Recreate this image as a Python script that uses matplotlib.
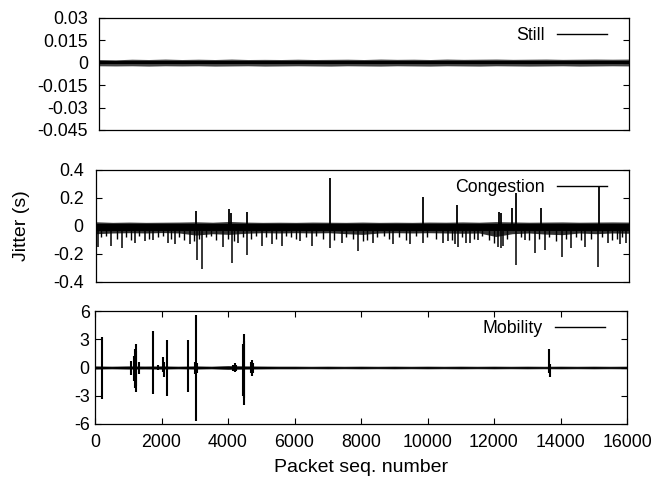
import matplotlib
matplotlib.use("Agg")
import matplotlib.pyplot as plt

plt.rcParams['font.family'] = ['Liberation Sans', 'DejaVu Sans']

# ---------------- data ----------------
seq_env = [0, 500, 1000, 1500, 2000, 2500, 3000, 3500, 4000, 4500, 5000, 5500,
           6000, 6500, 7000, 7500, 8000, 8500, 9000, 9500, 10000, 10500, 11000,
           11500, 12000, 12500, 13000, 13500, 14000, 14500, 15000, 15500, 16000]

# Still: dense jitter band envelope (outer fuzz and solid core)
still_hi = [0.0022, 0.0020, 0.0024, 0.0022, 0.0025, 0.0022, 0.0024, 0.0022, 0.0025,
            0.0022, 0.0023, 0.0022, 0.0024, 0.0022, 0.0023, 0.0024, 0.0022, 0.0025,
            0.0023, 0.0024, 0.0022, 0.0025, 0.0023, 0.0024, 0.0025, 0.0023, 0.0024,
            0.0025, 0.0023, 0.0024, 0.0025, 0.0024, 0.0025]
still_lo = [-0.0020, -0.0021, -0.0020, -0.0022, -0.0020, -0.0021, -0.0020, -0.0022,
            -0.0021, -0.0020, -0.0022, -0.0021, -0.0020, -0.0021, -0.0022, -0.0020,
            -0.0021, -0.0022, -0.0020, -0.0021, -0.0022, -0.0020, -0.0021, -0.0022,
            -0.0020, -0.0021, -0.0022, -0.0021, -0.0020, -0.0022, -0.0021, -0.0020, -0.0021]
still_core = 0.0011

# Congestion: dense jitter band envelope
cong_hi = [0.030, 0.026, 0.028, 0.026, 0.027, 0.028, 0.030, 0.027, 0.032, 0.028,
           0.026, 0.027, 0.026, 0.028, 0.027, 0.026, 0.028, 0.026, 0.027, 0.026,
           0.028, 0.027, 0.029, 0.027, 0.031, 0.029, 0.027, 0.028, 0.029, 0.027,
           0.028, 0.029, 0.028]
cong_lo = [-0.055, -0.050, -0.048, -0.050, -0.047, -0.050, -0.065, -0.055, -0.060,
           -0.052, -0.048, -0.050, -0.048, -0.050, -0.048, -0.055, -0.060, -0.050,
           -0.048, -0.050, -0.048, -0.050, -0.052, -0.050, -0.075, -0.055, -0.050,
           -0.058, -0.062, -0.050, -0.055, -0.050, -0.052]
cong_core_hi = 0.015
cong_core_lo = -0.035

# Congestion: isolated positive spikes (seq, value)
cong_up_seq = [3000, 4000, 4050, 4530, 7020, 9810, 10830, 12090, 12150, 12480,
               12600, 13350, 15090]
cong_up_val = [0.105, 0.12, 0.09, 0.10, 0.345, 0.21, 0.15, 0.10, 0.09, 0.13,
               0.235, 0.13, 0.28]

# Congestion: large negative spikes (seq, value)
cong_dn_seq = [70, 450, 770, 1170, 1470, 1720, 2170, 2370, 2820, 3030, 3180, 3820,
               4080, 4270, 4530, 4970, 5270, 5570, 6120, 6470, 7020, 7370, 7870,
               8320, 8920, 9420, 9820, 10420, 10570, 10770, 10870, 11120, 11220,
               11470, 12070, 12150, 12220, 12600, 12870, 13170, 13470, 14000,
               14270, 14670, 15080, 15370, 15720, 15920]
cong_dn_val = [-0.15, -0.14, -0.16, -0.12, -0.11, -0.10, -0.12, -0.13, -0.13,
               -0.24, -0.31, -0.15, -0.265, -0.12, -0.21, -0.14, -0.13, -0.14,
               -0.11, -0.14, -0.16, -0.12, -0.18, -0.12, -0.13, -0.13, -0.12,
               -0.12, -0.11, -0.13, -0.15, -0.12, -0.12, -0.10, -0.15, -0.16,
               -0.14, -0.28, -0.10, -0.19, -0.17, -0.22, -0.16, -0.15, -0.29,
               -0.12, -0.13, -0.12]

# Congestion: smaller negative spikes (seq, value)
cong_sm_seq = [150, 300, 620, 900, 1050, 1300, 1600, 1850, 2000, 2250,
               2500, 2650, 2950, 3100, 3300, 3450, 3600, 3950, 4150, 4400,
               4650, 4800, 5100, 5400, 5700, 5850, 6000, 6300, 6600, 6800,
               7150, 7500, 7700, 8000, 8150, 8450, 8650, 8800, 9100, 9300,
               9600, 9950, 10200, 10700, 11000, 11350, 11600, 11800, 11950, 12350,
               12750, 13000, 13300, 13600, 13800, 14100, 14400, 14550, 14850, 15200,
               15500, 15650, 15800]
cong_sm_val = [-0.08, -0.07, -0.09, -0.08, -0.10, -0.07, -0.09, -0.08, -0.07, -0.09,
               -0.08, -0.10, -0.11, -0.09, -0.08, -0.07, -0.10, -0.09, -0.11, -0.08,
               -0.09, -0.07, -0.08, -0.09, -0.07, -0.08, -0.09, -0.08, -0.07, -0.09,
               -0.10, -0.08, -0.09, -0.11, -0.10, -0.08, -0.07, -0.09, -0.08, -0.10,
               -0.07, -0.08, -0.09, -0.10, -0.08, -0.09, -0.07, -0.10, -0.12, -0.09,
               -0.08, -0.10, -0.09, -0.08, -0.11, -0.09, -0.08, -0.10, -0.09, -0.08,
               -0.10, -0.09, -0.08]

# Mobility: dense band envelope
mob_hi = [0.12, 0.10, 0.12, 0.11, 0.12, 0.10, 0.12, 0.10, 0.14, 0.12, 0.11, 0.10,
          0.10, 0.09, 0.10, 0.09, 0.10, 0.09, 0.10, 0.09, 0.10, 0.09, 0.10, 0.09,
          0.10, 0.09, 0.10, 0.09, 0.10, 0.09, 0.10, 0.09, 0.10]
mob_lo = [-0.12, -0.10, -0.12, -0.11, -0.12, -0.10, -0.12, -0.10, -0.14, -0.12,
          -0.11, -0.10, -0.10, -0.09, -0.10, -0.09, -0.10, -0.09, -0.10, -0.09,
          -0.10, -0.09, -0.10, -0.09, -0.10, -0.09, -0.10, -0.09, -0.10, -0.09,
          -0.10, -0.09, -0.10]

# Mobility: bursts (seq, top, bottom)
mob_seq = [220, 1080, 1180, 1200, 1220, 1240, 1320, 1750, 1900, 2040, 2070, 2170,
           2810, 3020, 3050, 3080, 4150, 4200, 4250, 4450, 4470, 4490, 4700, 4730,
           4760, 13650, 13670]
mob_top = [3.25, 0.7, 1.2, 2.0, 2.45, 1.8, 0.55, 3.85, 0.3, 1.1, 0.6, 2.95,
           2.95, 0.6, 5.55, 0.5, 0.3, 0.45, 0.3, 2.5, 3.55, 2.8, 0.6, 0.75,
           0.5, 1.95, 0.4]
mob_bot = [-3.3, -0.8, -1.4, -2.2, -2.65, -2.0, -0.7, -2.85, -0.3, -0.5, -1.0,
           -3.0, -2.6, -0.7, -5.7, -0.6, -0.4, -0.5, -0.4, -3.0, -4.0, -3.2,
           -0.6, -0.85, -0.6, -0.6, -1.0]

x_ticks = [0, 2000, 4000, 6000, 8000, 10000, 12000, 14000, 16000]
still_ticks = [0.03, 0.015, 0, -0.015, -0.03, -0.045]
still_ticklabels = ['0.03', '0.015', '0', '-0.015', '-0.03', '-0.045']
cong_ticks = [0.4, 0.2, 0, -0.2, -0.4]
cong_ticklabels = ['0.4', '0.2', '0', '-0.2', '-0.4']
mob_ticks = [6, 3, 0, -3, -6]
mob_ticklabels = ['6', '3', '0', '-3', '-6']

# ---------------- figure ----------------
W, H = 653, 479
fig = plt.figure(figsize=(W / 100, H / 100), dpi=100)
FS = 12.8
LFS = 14

def make_ax(l, r, t, b):
    return fig.add_axes([l / W, 1 - b / H, (r - l) / W, (b - t) / H])

ax1 = make_ax(99, 629, 18, 130)
ax2 = make_ax(96, 629, 170, 282)
ax3 = make_ax(95, 627, 311, 424)

for ax, ypad in ((ax1, 7.9), (ax2, 9.0), (ax3, 3.9)):
    ax.set_xlim(0, 16000)
    for s in ax.spines.values():
        s.set_linewidth(0.9)
    ax.tick_params(direction='in', length=4, width=0.8, labelsize=FS,
                   right=True, top=True)
    ax.tick_params(axis='y', pad=ypad)
    ax.tick_params(axis='x', pad=7.5)

# Still
ax1.fill_between(seq_env, still_lo, still_hi, color='#444444', lw=0)
ax1.axhspan(-still_core, still_core, color='black', lw=0)
ax1.plot([-1, -1], [0, 0], color='black', lw=1.0, label='Still')
ax1.set_ylim(-0.045, 0.03)
ax1.set_yticks(still_ticks)
ax1.set_yticklabels(still_ticklabels)
ax1.set_xticks([])

# Congestion
ax2.fill_between(seq_env, cong_lo, cong_hi, color='#333333', lw=0)
ax2.axhspan(cong_core_lo, cong_core_hi, color='black', lw=0)
ax2.vlines(cong_sm_seq, cong_sm_val, 0, color='black', lw=1.0)
ax2.vlines(cong_up_seq, 0, cong_up_val, color='black', lw=1.3)
ax2.vlines(cong_dn_seq, cong_dn_val, 0, color='black', lw=1.1)
ax2.plot([-1, -1], [0, 0], color='black', lw=1.0, label='Congestion')
ax2.set_ylim(-0.4, 0.4)
ax2.set_yticks(cong_ticks)
ax2.set_yticklabels(cong_ticklabels)
ax2.set_xticks([])

# Mobility
ax3.fill_between(seq_env, mob_lo, mob_hi, color='black', lw=0.5)
ax3.vlines(mob_seq, mob_bot, mob_top, color='black', lw=1.5)
ax3.plot([-1, -1], [0, 0], color='black', lw=1.0, label='Mobility')
ax3.set_ylim(-6, 6)
ax3.set_yticks(mob_ticks)
ax3.set_yticklabels(mob_ticklabels)
ax3.set_xticks(x_ticks)
ax3.set_xticklabels([str(v) for v in x_ticks])
ax3.set_xlim(0, 16000)

fig.text(361 / W, 1 - 467 / H, 'Packet seq. number', fontsize=LFS,
         ha='center', va='center')
fig.text(21 / W, 1 - 226 / H, 'Jitter (s)', fontsize=LFS, rotation=90,
         ha='center', va='center')

for ax, t_px, w_px in ((ax1, 15, 530), (ax2, 16, 533), (ax3, 15, 532)):
    ax.legend(loc='upper right', frameon=False, markerfirst=False, fontsize=FS,
              handlelength=2.8, handletextpad=0.7, borderaxespad=0.2,
              borderpad=0.3, bbox_to_anchor=(1 - 13 / w_px, 1))

fig.savefig('out.png', dpi=100)
